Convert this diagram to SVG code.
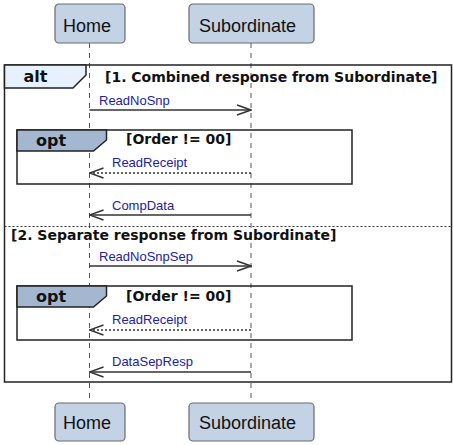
<svg xmlns="http://www.w3.org/2000/svg" width="453" height="445" viewBox="0 0 453 445">
<defs>
<style>
.part{fill:#c3d2e5;stroke:#6b6b6b;stroke-width:1.2}
.ptext{font-family:"Liberation Sans",Arial,sans-serif;font-size:18px;fill:#111}
.life{stroke:#555;stroke-width:1;stroke-dasharray:5,5;fill:none}
.frame{fill:none;stroke:#222;stroke-width:1.5}
.alttab{fill:#e6f1fc;stroke:#222;stroke-width:1.5}
.opttab{fill:#a3b7d1;stroke:#222;stroke-width:1.5}
.kw{font-family:"DejaVu Sans",sans-serif;font-weight:bold;font-size:16px;fill:#111}
.guard{font-family:"DejaVu Sans",sans-serif;font-weight:bold;font-size:14px;fill:#111}
.msg{stroke:#333;stroke-width:1.5;fill:none}
.dot{stroke-dasharray:2,2}
.lbl{font-family:"Liberation Sans",Arial,sans-serif;font-size:13px;fill:#2222a5}
.sep{stroke:#333;stroke-width:1.2;stroke-dasharray:2,2;fill:none}
</style>
<marker id="open" viewBox="0 0 16 12" refX="15" refY="6" markerWidth="16" markerHeight="12" markerUnits="userSpaceOnUse" orient="auto">
<path d="M1,1 L15,6 L1,11" fill="none" stroke="#333" stroke-width="1.5"/>
</marker>
</defs>

<g id="lifelines">
<line class="life" x1="89.5" y1="43" x2="89.5" y2="403"/>
<line class="life" x1="251" y1="43" x2="251" y2="403"/>
</g>

<g id="alt-frame">
<rect class="frame" x="4.5" y="65" width="447" height="317"/>
<polygon class="alttab" points="4.5,65 86,65 86,75 73,88 4.5,88"/>
<text class="kw" x="23.5" y="82">alt</text>
<text class="guard" x="105" y="81.5">[1. Combined response from Subordinate]</text>
<line class="sep" x1="4.5" y1="226.5" x2="451.5" y2="226.5"/>
<text class="guard" x="11" y="240">[2. Separate response from Subordinate]</text>
</g>

<g id="opt-frame-1">
<rect class="frame" x="17" y="130" width="335" height="54"/>
<polygon class="opttab" points="17,130 106.5,130 106.5,140 93.5,151 17,151"/>
<text class="kw" x="36" y="146">opt</text>
<text class="guard" x="126" y="144">[Order != 00]</text>
</g>

<g id="opt-frame-2">
<rect class="frame" x="17" y="286" width="335" height="54"/>
<polygon class="opttab" points="17,286 106.5,286 106.5,296 93.5,307 17,307"/>
<text class="kw" x="36" y="302">opt</text>
<text class="guard" x="126" y="300.5">[Order != 00]</text>
</g>

<g id="connectors">
<line class="msg" x1="89.5" y1="110" x2="251" y2="110" marker-end="url(#open)"/>
<text class="lbl" x="99" y="104.5">ReadNoSnp</text>
<line class="msg dot" x1="251" y1="173" x2="89.5" y2="173" marker-end="url(#open)"/>
<text class="lbl" x="112" y="167">ReadReceipt</text>
<line class="msg" x1="251" y1="215" x2="89.5" y2="215" marker-end="url(#open)"/>
<text class="lbl" x="112" y="210">CompData</text>
<line class="msg" x1="89.5" y1="266" x2="251" y2="266" marker-end="url(#open)"/>
<text class="lbl" x="99" y="261">ReadNoSnpSep</text>
<line class="msg dot" x1="251" y1="330" x2="89.5" y2="330" marker-end="url(#open)"/>
<text class="lbl" x="112" y="324">ReadReceipt</text>
<line class="msg" x1="251" y1="372" x2="89.5" y2="372" marker-end="url(#open)"/>
<text class="lbl" x="112" y="366">DataSepResp</text>
</g>

<g id="home-top">
<rect class="part" x="55" y="4" width="70" height="39" rx="4"/>
<text class="ptext" x="63" y="31.7">Home</text>
</g>
<g id="subordinate-top">
<rect class="part" x="189" y="4" width="125" height="39" rx="4"/>
<text class="ptext" x="199" y="31.7">Subordinate</text>
</g>
<g id="home-bottom">
<rect class="part" x="55" y="403" width="70" height="38" rx="4"/>
<text class="ptext" x="63" y="429">Home</text>
</g>
<g id="subordinate-bottom">
<rect class="part" x="189" y="403" width="125" height="38" rx="4"/>
<text class="ptext" x="199" y="429">Subordinate</text>
</g>
</svg>
